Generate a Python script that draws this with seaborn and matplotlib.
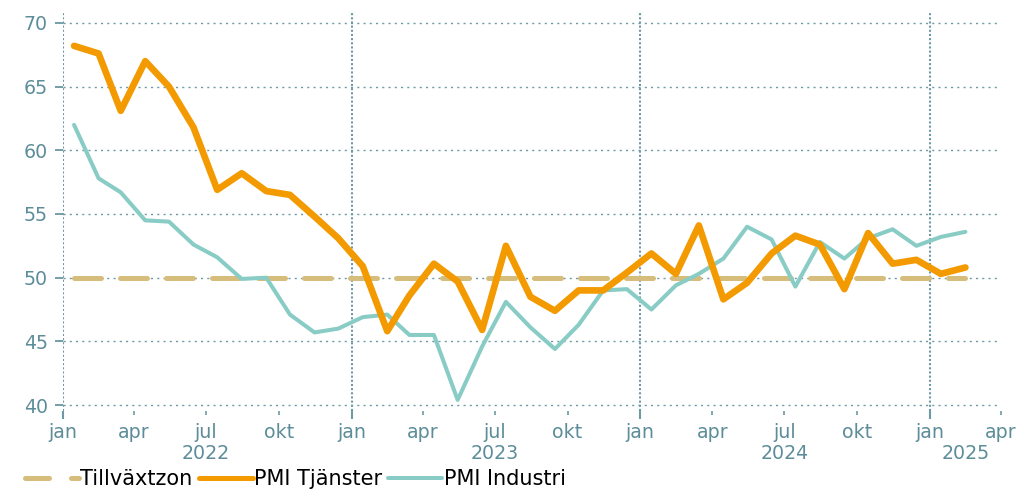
import pandas as pd
import seaborn as sns
import matplotlib.pyplot as plt
import matplotlib.dates as mdates
from matplotlib.lines import Line2D
from matplotlib.transforms import blended_transform_factory

# monthly PMI values, jan 2022 - feb 2025
tjanster = [68.2, 67.6, 63.1, 67.0, 65.0, 61.8, 56.9, 58.2, 56.8, 56.5, 54.8, 53.1,
            50.9, 45.8, 48.6, 51.1, 49.7, 45.9, 52.5, 48.5, 47.4, 49.0, 49.0, 50.4,
            51.9, 50.3, 54.1, 48.3, 49.6, 51.9, 53.3, 52.6, 49.1, 53.5, 51.1, 51.4, 50.3, 50.8]
industri = [62.0, 57.8, 56.7, 54.5, 54.4, 52.6, 51.6, 49.9, 50.0, 47.1, 45.7, 46.0,
            46.9, 47.1, 45.5, 45.5, 40.4, 44.6, 48.1, 46.1, 44.4, 46.3, 49.0, 49.1,
            47.5, 49.4, 50.3, 51.5, 54.0, 53.0, 49.3, 52.8, 51.5, 53.1, 53.8, 52.5, 53.2, 53.6]
tillvaxt = [50.0] * len(tjanster)
dates = pd.date_range("2022-01-01", periods=len(tjanster), freq="MS") + pd.Timedelta(days=14)

df = pd.DataFrame({"date": dates, "tjanster": tjanster, "industri": industri, "tillvaxt": tillvaxt})

year_labels = ["2022", "2023", "2024", "2025"]
year_pos = pd.to_datetime(["2022-07-01", "2023-07-01", "2024-07-01", "2025-02-15"])
month_names = {1: "jan", 4: "apr", 7: "jul", 10: "okt"}

c_orange = "#f39a00"
c_teal = "#88ccc5"
c_tan = "#d7bd7b"
c_axis = "#5d8d99"
c_grid = "#6e9aa5"

sns.set_style("white")
plt.rcParams["font.family"] = ["DejaVu Sans"]

fig = plt.figure(figsize=(10.21, 4.9), dpi=100)
ax = fig.add_axes([0.0617, 0.1612, 0.9804 - 0.0617, 0.9755 - 0.1612])

sns.lineplot(data=df, x="date", y="tillvaxt", ax=ax, color=c_tan, lw=3.6, zorder=3)
ax.lines[-1].set_dashes((5.4, 3.8))
ax.lines[-1].set_dash_capstyle("round")
sns.lineplot(data=df, x="date", y="industri", ax=ax, color=c_teal, lw=2.9, zorder=4)
sns.lineplot(data=df, x="date", y="tjanster", ax=ax, color=c_orange, lw=4.8, zorder=5)
for ln in ax.lines:
    ln.set_solid_joinstyle("round")
    ln.set_solid_capstyle("round")

ax.set_xlim(pd.Timestamp("2022-01-01"), pd.Timestamp("2025-04-01"))
ax.set_ylim(39.53, 70.86)
ax.set_yticks([40, 45, 50, 55, 60, 65, 70])
ax.set_xlabel("")
ax.set_ylabel("")

for s in ["top", "right", "bottom", "left"]:
    ax.spines[s].set_visible(False)

# horizontal dotted grid
ax.yaxis.grid(True, color=c_grid, lw=1.0, linestyle=(0, (1.5, 3)))
# vertical dotted lines at each new year (also the left axis)
ax.xaxis.set_major_locator(mdates.MonthLocator(bymonth=1))
ax.xaxis.set_minor_locator(mdates.MonthLocator(bymonth=[4, 7, 10]))
ax.xaxis.grid(True, which="major", color=c_grid, lw=1.5, linestyle=(0, (1, 1)))
ax.set_axisbelow(True)

month_fmt = plt.FuncFormatter(lambda v, p: month_names[mdates.num2date(v).month])
ax.xaxis.set_major_formatter(month_fmt)
ax.xaxis.set_minor_formatter(month_fmt)

ax.tick_params(axis="x", which="major", length=5.8, width=1.5, color=c_grid,
               labelcolor=c_axis, labelsize=13.7, pad=2.6)
ax.tick_params(axis="x", which="minor", length=2.9, width=1.2, color=c_grid,
               labelcolor=c_axis, labelsize=13.7, pad=5.5)
ax.tick_params(axis="y", length=5.8, width=1.2, color=c_axis, labelcolor=c_axis,
               labelsize=13.7, pad=5)
ax.tick_params(left=True, bottom=True, which="both")

tr = blended_transform_factory(ax.transData, ax.transAxes)
for lab, pos in zip(year_labels, year_pos):
    ax.text(pos, -0.1203, lab, transform=tr, ha="center", va="baseline",
            color=c_axis, fontsize=13.7)

handles = [
    Line2D([], [], color=c_tan, lw=3.6, dashes=(4.8, 4.4), dash_capstyle="round"),
    Line2D([], [], color=c_orange, lw=3.6, solid_capstyle="round"),
    Line2D([], [], color=c_teal, lw=2.9, solid_capstyle="round"),
]
fig.legend(handles, ["Tillväxtzon", "PMI Tjänster", "PMI Industri"],
           loc="center left", bbox_to_anchor=(0.0245, 0.0225), ncol=3,
           frameon=False, fontsize=15, handlelength=2.6, handletextpad=0.05,
           columnspacing=0.3, borderpad=0, borderaxespad=0, labelcolor="black")

fig.savefig("out.png", dpi=100)
